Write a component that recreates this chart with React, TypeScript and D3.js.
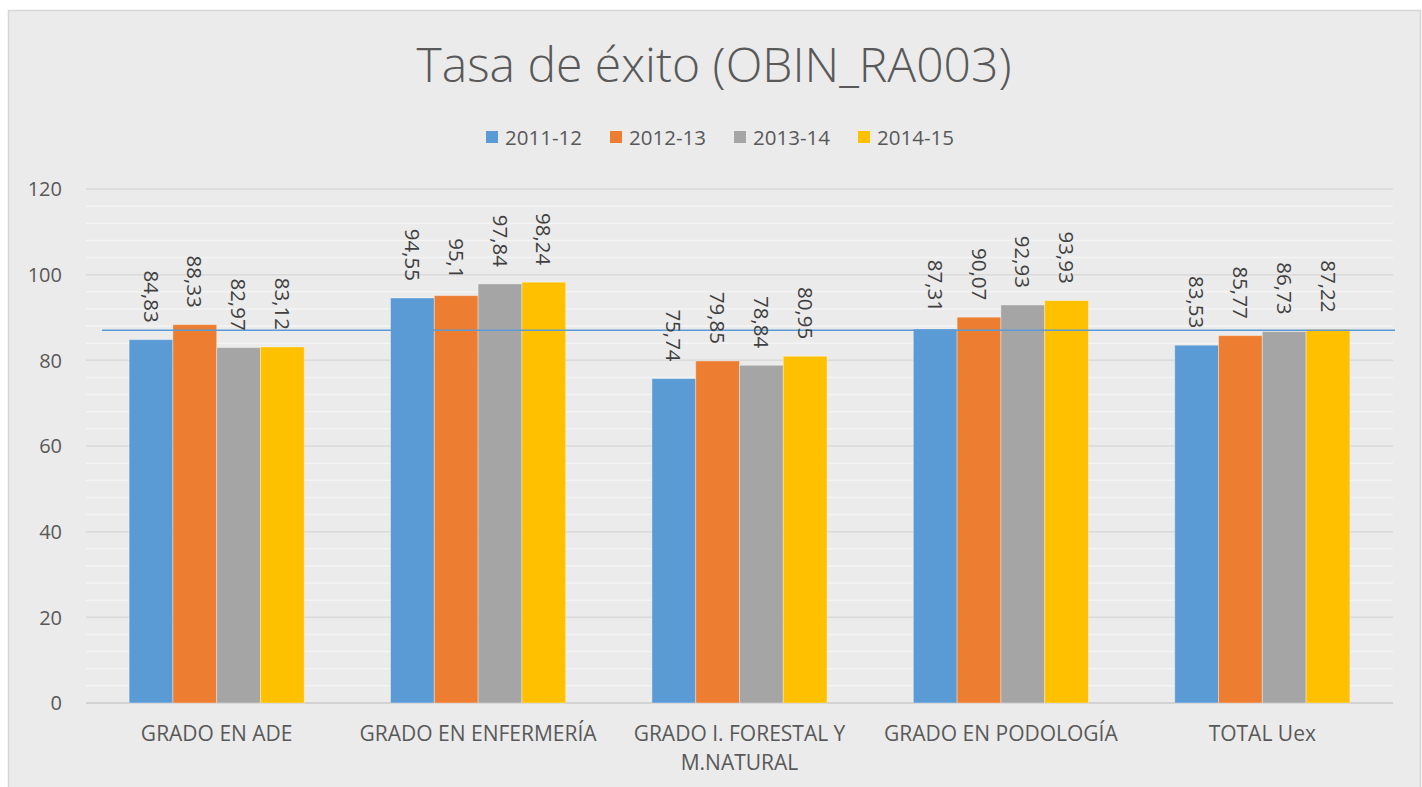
import React, { useEffect } from "react";
import * as d3 from "d3";

const categories = [
  "GRADO EN ADE",
  "GRADO EN ENFERMERÍA",
  "GRADO I. FORESTAL Y M.NATURAL",
  "GRADO EN PODOLOGÍA",
  "TOTAL Uex",
];
const seriesNames = ["2011-12", "2012-13", "2013-14", "2014-15"];
const values2011 = [84.83, 94.55, 75.74, 87.31, 83.53];
const values2012 = [88.33, 95.1, 79.85, 90.07, 85.77];
const values2013 = [82.97, 97.84, 78.84, 92.93, 86.73];
const values2014 = [83.12, 98.24, 80.95, 93.93, 87.22];
const seriesValues = [values2011, values2012, values2013, values2014];
const colors = ["#5b9bd5", "#ed7d31", "#a5a5a5", "#ffc000"];
const yTicks = [0, 20, 40, 60, 80, 100, 120];
const referenceValue = 87.0;
const title = "Tasa de éxito (OBIN_RA003)";

const W = 1422;
const H = 787;
const FONT = "'Open Sans', 'Noto Sans', sans-serif";

function wrapLabel(text: string, maxW: number, font: string): string[] {
  const canvas = document.createElement("canvas");
  const ctx = canvas.getContext("2d")!;
  ctx.font = font;
  const words = text.split(" ");
  const lines: string[] = [];
  let cur = "";
  for (const w of words) {
    const test = cur ? cur + " " + w : w;
    if (ctx.measureText(test).width > maxW && cur) {
      lines.push(cur);
      cur = w;
    } else cur = test;
  }
  if (cur) lines.push(cur);
  return lines;
}

export default function App() {
  useEffect(() => {
    document.body.style.margin = "0";
    document.body.style.overflow = "hidden";
  }, []);

  const plotLeft = 86;
  const plotRight = 1393;
  const plotTop = 189;
  const plotBottom = 703;

  const x = d3
    .scaleBand<string>()
    .domain(categories)
    .range([plotLeft, plotRight])
    .paddingInner(0.33)
    .paddingOuter(0.165);
  const xs = d3
    .scaleBand<string>()
    .domain(seriesNames)
    .range([0, x.bandwidth()]);
  const y = d3.scaleLinear().domain([0, 120]).range([plotBottom, plotTop]);
  const minorTicks = d3.range(0, 121, 4).filter((v) => v % 20 !== 0);

  const fmt = (v: number) => String(v).replace(".", ",");
  const catFont = `21px ${FONT}`;

  const legendStep = 124;
  const legendStart = 486;

  return (
    <svg width={W} height={H} style={{ display: "block" }} fontFamily={FONT}>
      <rect x={0} y={0} width={W} height={H} fill="#ffffff" />
      <rect
        x={8.5}
        y={10.5}
        width={1412}
        height={H}
        fill="#ebebeb"
        stroke="#d6d6d6"
        strokeWidth={1.5}
      />
      <text
        x={714}
        y={82}
        textAnchor="middle"
        fontSize={48}
        fontWeight={300}
        fill="#595959"
      >
        {title}
      </text>
      {/* legend */}
      {seriesNames.map((s, i) => (
        <g key={s} transform={`translate(${legendStart + i * legendStep},0)`}>
          <rect x={0} y={131} width={12} height={12} fill={colors[i]} />
          <text x={19} y={145} fontSize={20.5} fill="#595959">
            {s}
          </text>
        </g>
      ))}
      {/* minor gridlines */}
      {minorTicks.map((t) => (
        <line
          key={"m" + t}
          x1={plotLeft}
          x2={plotRight}
          y1={y(t)}
          y2={y(t)}
          stroke="#f4f4f4"
          strokeWidth={1.5}
        />
      ))}
      {/* major gridlines */}
      {yTicks.map((t) => (
        <line
          key={"g" + t}
          x1={plotLeft}
          x2={plotRight}
          y1={y(t)}
          y2={y(t)}
          stroke={t === 0 ? "#d2d2d2" : "#dadada"}
          strokeWidth={t === 0 ? 2 : 1.5}
        />
      ))}
      {/* y tick labels */}
      {yTicks.map((t) => (
        <text
          key={"yt" + t}
          x={62}
          y={y(t)}
          dy="0.36em"
          textAnchor="end"
          fontSize={20}
          fill="#595959"
        >
          {t}
        </text>
      ))}
      {/* bars */}
      {categories.map((c, ci) => (
        <g key={c} transform={`translate(${x(c)},0)`}>
          {seriesNames.map((s, si) => {
            const v = seriesValues[si][ci];
            return (
              <rect
                key={s}
                x={xs(s)}
                y={y(v)}
                width={xs.bandwidth()}
                height={y(0) - y(v)}
                fill={colors[si]}
                stroke="rgba(255,255,255,0.35)"
                strokeWidth={1}
              />
            );
          })}
        </g>
      ))}
      {/* reference line */}
      <line
        x1={plotLeft + 16}
        x2={plotRight + 2}
        y1={y(referenceValue)}
        y2={y(referenceValue)}
        stroke="#5b9bd5"
        strokeWidth={1.5}
      />
      {/* value labels */}
      {categories.map((c, ci) =>
        seriesNames.map((s, si) => {
          const v = seriesValues[si][ci];
          const cx = (x(c) as number) + (xs(s) as number) + xs.bandwidth() / 2;
          const ty = y(v) - 17;
          return (
            <text
              key={c + s}
              transform={`translate(${cx},${ty}) rotate(90)`}
              textAnchor="end"
              dy="0.36em"
              fontSize={20.5}
              fill="#404040"
            >
              {fmt(v)}
            </text>
          );
        })
      )}
      {/* category labels */}
      {categories.map((c) => {
        const lines = wrapLabel(c, x.step(), catFont);
        const cx = (x(c) as number) + x.bandwidth() / 2;
        return (
          <text key={"c" + c} textAnchor="middle" fontSize={21} fill="#595959">
            {lines.map((l, li) => (
              <tspan key={li} x={cx} y={741 + li * 29}>
                {l}
              </tspan>
            ))}
          </text>
        );
      })}
    </svg>
  );
}
